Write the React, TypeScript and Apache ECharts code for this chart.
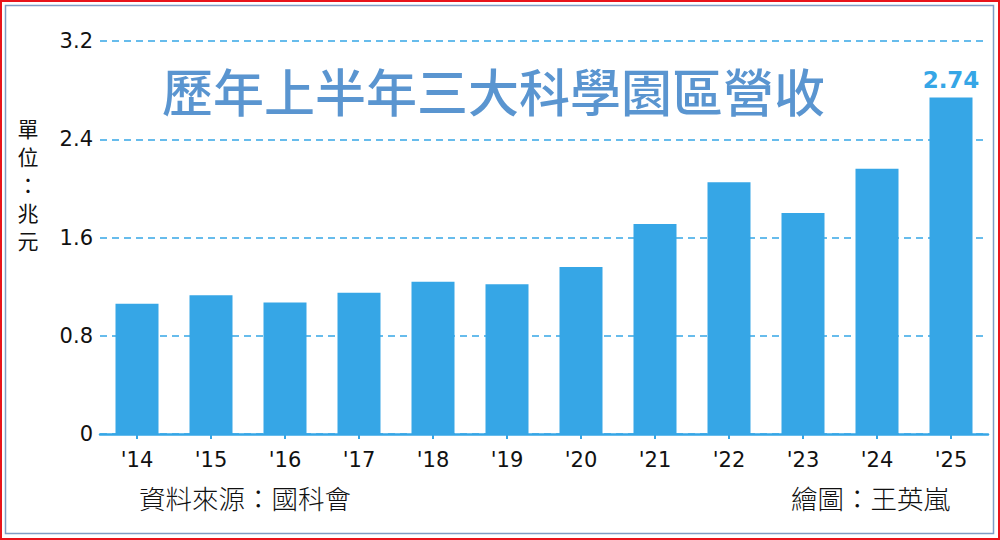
import React, { useEffect, useRef } from "react";
import * as echarts from "echarts";

const categories = ["'14", "'15", "'16", "'17", "'18", "'19", "'20", "'21", "'22", "'23", "'24", "'25"];
const revenue = [1.06, 1.13, 1.07, 1.15, 1.24, 1.22, 1.36, 1.71, 2.05, 1.8, 2.16, 2.74];
const yTicks = [0, 0.8, 1.6, 2.4, 3.2];
const titleText = "歷年上半年三大科學園區營收";
const unitText = ["單", "位", "：", "兆", "元"];
const sourceText = "資料來源：國科會";
const creditText = "繪圖：王英嵐";

const BAR = "#36a6e6";
const NUM_FONT = "DejaVu Sans, sans-serif";
const CJK_FONT = "Noto Sans CJK TC, sans-serif";

export default function App() {
  const ref = useRef<HTMLDivElement>(null);
  useEffect(() => {
    document.body.style.margin = "0";
    const chart = echarts.init(ref.current!, null, { renderer: "svg" });
    const lastIdx = revenue.length - 1;
    chart.setOption({
      animation: false,
      backgroundColor: "#ffffff",
      grid: { left: 100, right: 12, top: 41, bottom: 106 },
      xAxis: {
        type: "category",
        data: categories,
        axisLine: { show: true, lineStyle: { color: BAR, width: 2.5 } },
        axisTick: { show: true, alignWithLabel: true, length: 5, lineStyle: { color: BAR, width: 2 } },
        axisLabel: {
          color: "#111",
          fontSize: 21,
          fontFamily: NUM_FONT,
          margin: 15,
        },
      },
      yAxis: {
        type: "value",
        min: yTicks[0],
        max: yTicks[yTicks.length - 1],
        interval: 0.8,
        axisLine: { show: false },
        axisTick: { show: false },
        axisLabel: {
          color: "#111",
          fontSize: 21,
          fontFamily: NUM_FONT,
          margin: 7,
          formatter: (v: number) => (v === 0 ? "0" : v.toFixed(1)),
        },
        splitLine: {
          show: true,
          lineStyle: { color: BAR, type: [7, 5], width: 1.5 },
        },
      },
      series: [
        {
          type: "bar",
          data: revenue.map((v, i) =>
            i === lastIdx
              ? {
                  value: v,
                  label: {
                    show: true,
                    position: "top",
                    distance: 6,
                    color: BAR,
                    fontSize: 23,
                    fontWeight: "bold",
                    fontFamily: NUM_FONT,
                    formatter: (p: any) => p.value.toFixed(2),
                  },
                }
              : v
          ),
          barWidth: 43,
          itemStyle: { color: BAR },
          z: 3,
        },
      ],
      graphic: [
        {
          type: "rect",
          shape: { x: 1, y: 1, width: 998, height: 538 },
          style: { fill: "none", stroke: "#e8141b", lineWidth: 2 },
          silent: true,
        },
        {
          type: "rect",
          shape: { x: 5.5, y: 5.5, width: 988, height: 528 },
          style: { fill: "none", stroke: "#7f9dc4", lineWidth: 1.5 },
          silent: true,
        },
        {
          type: "text",
          left: 162,
          top: 64,
          z: 10,
          style: {
            text: titleText,
            fill: "#5a95d0",
            fontSize: 51,
            fontWeight: 500,
            fontFamily: CJK_FONT,
          },
        },
        ...unitText.map((ch, i) => ({
          type: "text",
          x: 28,
          y: 128 + i * 28,
          style: {
            text: ch,
            fill: "#111",
            fontSize: 21,
            lineHeight: 21,
            fontFamily: CJK_FONT,
            align: "center",
            verticalAlign: "middle",
          },
        })),
        {
          type: "text",
          x: 139,
          y: 497,
          style: {
            text: sourceText,
            fill: "#111",
            fontSize: 26.5,
            fontWeight: 300,
            fontFamily: CJK_FONT,
            verticalAlign: "middle",
          },
        },
        {
          type: "text",
          x: 791,
          y: 497,
          style: {
            text: creditText,
            fill: "#111",
            fontSize: 26.5,
            fontWeight: 300,
            fontFamily: CJK_FONT,
            verticalAlign: "middle",
          },
        },
      ],
    });
    return () => chart.dispose();
  }, []);
  return (
    <div
      ref={ref}
      style={{ position: "fixed", left: 0, top: 0, width: 1000, height: 540 }}
    />
  );
}
